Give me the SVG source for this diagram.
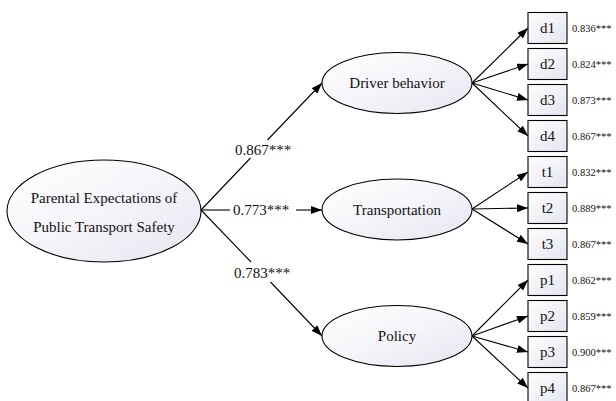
<svg xmlns="http://www.w3.org/2000/svg" width="616" height="401" viewBox="0 0 616 401">
<defs>
<linearGradient id="gE" x1="0" y1="0" x2="1" y2="1">
<stop offset="0" stop-color="#ffffff"/>
<stop offset="0.4" stop-color="#f7f7fb"/>
<stop offset="1" stop-color="#e6e6f1"/>
</linearGradient>
<linearGradient id="gB" x1="0" y1="0" x2="1" y2="1">
<stop offset="0" stop-color="#ffffff"/>
<stop offset="1" stop-color="#e4e4f0"/>
</linearGradient>
<marker id="ah" markerUnits="userSpaceOnUse" markerWidth="11" markerHeight="8" refX="11" refY="4" orient="auto">
<path d="M0,0 L11,4 L0,8 z" fill="#000"/>
</marker>
<style>
.el{fill:url(#gE);stroke:#000;stroke-width:1.1}
.bx{fill:url(#gB);stroke:#000;stroke-width:1.1}
.t{font-family:"Liberation Serif",serif;font-size:15px;fill:#111;text-anchor:middle}
.lab{font-family:"Liberation Serif",serif;font-size:15px;fill:#111}
.sm{font-family:"Liberation Serif",serif;font-size:10.5px;fill:#111}
.c{stroke:#000;stroke-width:1.1;fill:none}
.ca{stroke:#000;stroke-width:1.1;fill:none;marker-end:url(#ah)}
</style>
</defs>
<rect width="616" height="401" fill="#fff"/>

<g id="connectors">
<line class="c" x1="201" y1="210" x2="250.5" y2="158"/>
<line class="ca" x1="267.5" y1="140" x2="322" y2="83"/>
<line class="c" x1="201" y1="210" x2="230" y2="210"/>
<line class="ca" x1="296" y1="210" x2="322" y2="210"/>
<line class="c" x1="201" y1="210" x2="251" y2="262"/>
<line class="ca" x1="270.5" y1="282" x2="322" y2="336"/>

<line class="ca" x1="472" y1="83" x2="528" y2="28"/>
<line class="ca" x1="472" y1="83" x2="528" y2="64"/>
<line class="ca" x1="472" y1="83" x2="528" y2="100"/>
<line class="ca" x1="472" y1="83" x2="528" y2="136"/>

<line class="ca" x1="472" y1="209" x2="528" y2="172"/>
<line class="ca" x1="472" y1="209" x2="528" y2="208"/>
<line class="ca" x1="472" y1="209" x2="528" y2="244"/>

<line class="ca" x1="472" y1="336" x2="528" y2="280"/>
<line class="ca" x1="472" y1="336" x2="528" y2="316"/>
<line class="ca" x1="472" y1="336" x2="528" y2="352"/>
<line class="ca" x1="472" y1="336" x2="528" y2="388"/>

<text class="lab" x="263" y="155" text-anchor="middle">0.867***</text>
<text class="lab" x="233" y="215">0.773***</text>
<text class="lab" x="262" y="278" text-anchor="middle">0.783***</text>
</g>

<g id="pets">
<ellipse class="el" cx="104" cy="211" rx="97" ry="51"/>
<text class="t" x="104" y="203">Parental Expectations of</text>
<text class="t" x="104" y="232">Public Transport Safety</text>
</g>
<g id="driver">
<ellipse class="el" cx="397" cy="83" rx="75" ry="30.5"/>
<text class="t" x="397" y="88">Driver behavior</text>
</g>
<g id="transportation">
<ellipse class="el" cx="397" cy="209.5" rx="75" ry="30.5"/>
<text class="t" x="397" y="214.5">Transportation</text>
</g>
<g id="policy">
<ellipse class="el" cx="397" cy="336" rx="75" ry="30.5"/>
<text class="t" x="397" y="341">Policy</text>
</g>

<g id="d1"><rect class="bx" x="528" y="12.5" width="39" height="31"/><text class="t" x="547.5" y="33">d1</text><text class="sm" x="572" y="32">0.836***</text></g>
<g id="d2"><rect class="bx" x="528" y="48.5" width="39" height="31"/><text class="t" x="547.5" y="69">d2</text><text class="sm" x="572" y="68">0.824***</text></g>
<g id="d3"><rect class="bx" x="528" y="84.5" width="39" height="31"/><text class="t" x="547.5" y="105">d3</text><text class="sm" x="572" y="104">0.873***</text></g>
<g id="d4"><rect class="bx" x="528" y="120.5" width="39" height="31"/><text class="t" x="547.5" y="141">d4</text><text class="sm" x="572" y="140">0.867***</text></g>
<g id="t1"><rect class="bx" x="528" y="156.5" width="39" height="31"/><text class="t" x="547.5" y="177">t1</text><text class="sm" x="572" y="176">0.832***</text></g>
<g id="t2"><rect class="bx" x="528" y="192.5" width="39" height="31"/><text class="t" x="547.5" y="213">t2</text><text class="sm" x="572" y="212">0.889***</text></g>
<g id="t3"><rect class="bx" x="528" y="228.5" width="39" height="31"/><text class="t" x="547.5" y="249">t3</text><text class="sm" x="572" y="248">0.867***</text></g>
<g id="p1"><rect class="bx" x="528" y="264.5" width="39" height="31"/><text class="t" x="547.5" y="285">p1</text><text class="sm" x="572" y="284">0.862***</text></g>
<g id="p2"><rect class="bx" x="528" y="300.5" width="39" height="31"/><text class="t" x="547.5" y="321">p2</text><text class="sm" x="572" y="320">0.859***</text></g>
<g id="p3"><rect class="bx" x="528" y="336.5" width="39" height="31"/><text class="t" x="547.5" y="357">p3</text><text class="sm" x="572" y="356">0.900***</text></g>
<g id="p4"><rect class="bx" x="528" y="372.5" width="39" height="31"/><text class="t" x="547.5" y="393">p4</text><text class="sm" x="572" y="392">0.867***</text></g>
</svg>
